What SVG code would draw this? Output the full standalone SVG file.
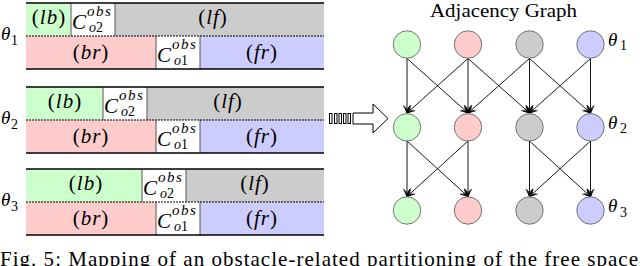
<svg xmlns="http://www.w3.org/2000/svg" width="640" height="266" viewBox="0 0 640 266">
<style>
text{font-family:"Liberation Serif","Times New Roman","DejaVu Serif",serif;fill:#000}
.lbl{font-size:21px;letter-spacing:1px}
.it{font-style:italic}
.sup{font-size:15px;font-style:italic;letter-spacing:1.5px}
.sub{font-size:14px}
.th{font-size:19px;font-style:italic}
.ts{font-size:14px}
.g{fill:#ccffcc}.r{fill:#ffcccc}.k{fill:#cccccc}.b{fill:#ccccff}.w{fill:#ffffff}
.edge{stroke:#000;stroke-width:0.9;fill:none;marker-end:url(#ah)}
.node{stroke:#666;stroke-width:0.9}
.vb{stroke:#555;stroke-width:1}
.hl{stroke:#000;stroke-width:1.3}
.dl{stroke:#000;stroke-width:1;stroke-dasharray:2 1}
</style>
<defs>
<marker id="ah" viewBox="0 0 10 10" refX="9.5" refY="5" markerWidth="9" markerHeight="9" markerUnits="userSpaceOnUse" orient="auto">
<path d="M1,1 L9.5,5 L1,9 M2,2.5 L9.5,5 L2,7.5 M3.5,3.8 L9.5,5 L3.5,6.2" stroke="#000" stroke-width="0.9" fill="none"/>
</marker>
</defs>
<rect width="640" height="266" fill="#fff"/>

<!-- Panel 1 -->
<g id="panel1">
<rect class="g" x="26" y="3" width="45" height="33"/>
<rect class="w" x="71" y="3" width="44" height="33"/>
<rect class="k" x="115" y="3" width="209" height="33"/>
<rect class="r" x="26" y="36" width="130" height="33"/>
<rect class="w" x="156" y="36" width="44" height="33"/>
<rect class="b" x="200" y="36" width="124" height="33"/>
<line class="vb" x1="71" y1="3" x2="71" y2="36"/><line class="vb" x1="115" y1="3" x2="115" y2="36"/>
<line class="vb" x1="156" y1="36" x2="156" y2="69"/><line class="vb" x1="200" y1="36" x2="200" y2="69"/>
<line class="hl" x1="26" y1="3" x2="324" y2="3"/><line class="hl" x1="26" y1="69" x2="324" y2="69"/>
<line class="dl" x1="26" y1="36" x2="324" y2="36"/>
<text class="lbl" x="49" y="24" text-anchor="middle">(<tspan class="it">lb</tspan>)</text>
<text class="lbl" x="213" y="24" text-anchor="middle">(<tspan class="it">lf</tspan>)</text>
<text class="lbl" x="91" y="59" text-anchor="middle">(<tspan class="it">br</tspan>)</text>
<text class="lbl" x="262" y="59" text-anchor="middle">(<tspan class="it">fr</tspan>)</text>
<text class="lbl it" x="72" y="29">C</text><text class="sup" x="87" y="16">obs</text><text class="sub" x="89" y="32"><tspan class="it">o</tspan>2</text>
<text class="lbl it" x="157" y="62">C</text><text class="sup" x="172" y="49">obs</text><text class="sub" x="174" y="65"><tspan class="it">o</tspan>1</text>
<text class="th" x="1" y="40">θ</text><text class="ts" x="11" y="45">1</text>
</g>

<!-- Panel 2 -->
<g id="panel2">
<rect class="g" x="26" y="87" width="77" height="33"/>
<rect class="w" x="103" y="87" width="44" height="33"/>
<rect class="k" x="147" y="87" width="177" height="33"/>
<rect class="r" x="26" y="120" width="130" height="33"/>
<rect class="w" x="156" y="120" width="44" height="33"/>
<rect class="b" x="200" y="120" width="124" height="33"/>
<line class="vb" x1="103" y1="87" x2="103" y2="120"/><line class="vb" x1="147" y1="87" x2="147" y2="120"/>
<line class="vb" x1="156" y1="120" x2="156" y2="153"/><line class="vb" x1="200" y1="120" x2="200" y2="153"/>
<line class="hl" x1="26" y1="87" x2="324" y2="87"/><line class="hl" x1="26" y1="153" x2="324" y2="153"/>
<line class="dl" x1="26" y1="120" x2="324" y2="120"/>
<text class="lbl" x="65" y="108" text-anchor="middle">(<tspan class="it">lb</tspan>)</text>
<text class="lbl" x="228" y="108" text-anchor="middle">(<tspan class="it">lf</tspan>)</text>
<text class="lbl" x="91" y="143" text-anchor="middle">(<tspan class="it">br</tspan>)</text>
<text class="lbl" x="262" y="143" text-anchor="middle">(<tspan class="it">fr</tspan>)</text>
<text class="lbl it" x="104" y="113">C</text><text class="sup" x="119" y="100">obs</text><text class="sub" x="121" y="116"><tspan class="it">o</tspan>2</text>
<text class="lbl it" x="157" y="146">C</text><text class="sup" x="172" y="133">obs</text><text class="sub" x="174" y="149"><tspan class="it">o</tspan>1</text>
<text class="th" x="1" y="124">θ</text><text class="ts" x="11" y="129">2</text>
</g>

<!-- Panel 3 -->
<g id="panel3">
<rect class="g" x="26" y="169" width="116" height="33"/>
<rect class="w" x="142" y="169" width="44" height="33"/>
<rect class="k" x="186" y="169" width="138" height="33"/>
<rect class="r" x="26" y="202" width="130" height="33"/>
<rect class="w" x="156" y="202" width="44" height="33"/>
<rect class="b" x="200" y="202" width="124" height="33"/>
<line class="vb" x1="142" y1="169" x2="142" y2="202"/><line class="vb" x1="186" y1="169" x2="186" y2="202"/>
<line class="vb" x1="156" y1="202" x2="156" y2="235"/><line class="vb" x1="200" y1="202" x2="200" y2="235"/>
<line class="hl" x1="26" y1="169" x2="324" y2="169"/><line class="hl" x1="26" y1="235" x2="324" y2="235"/>
<line class="dl" x1="26" y1="202" x2="324" y2="202"/>
<text class="lbl" x="86" y="190" text-anchor="middle">(<tspan class="it">lb</tspan>)</text>
<text class="lbl" x="255" y="190" text-anchor="middle">(<tspan class="it">lf</tspan>)</text>
<text class="lbl" x="91" y="225" text-anchor="middle">(<tspan class="it">br</tspan>)</text>
<text class="lbl" x="262" y="225" text-anchor="middle">(<tspan class="it">fr</tspan>)</text>
<text class="lbl it" x="143" y="195">C</text><text class="sup" x="158" y="182">obs</text><text class="sub" x="160" y="198"><tspan class="it">o</tspan>2</text>
<text class="lbl it" x="157" y="228">C</text><text class="sup" x="172" y="215">obs</text><text class="sub" x="174" y="231"><tspan class="it">o</tspan>1</text>
<text class="th" x="1" y="206">θ</text><text class="ts" x="11" y="211">3</text>
</g>

<!-- Mapping arrow -->
<g id="mapArrow" fill="none" stroke="#000" stroke-width="1">
<rect x="329.5" y="113.5" width="2.5" height="10"/>
<rect x="334.5" y="113.5" width="2.5" height="10"/>
<rect x="339" y="113.5" width="2.5" height="10"/>
<rect x="343.5" y="113.5" width="2.5" height="10"/>
<rect x="348" y="113.5" width="2.5" height="10"/>
<polygon points="353,113 373,113 373,104 388,118.5 373,133 373,124 353,124" fill="#fff"/>
</g>

<text x="503.5" y="17" font-size="19" text-anchor="middle" textLength="147" lengthAdjust="spacingAndGlyphs">Adjacency Graph</text>

<!-- Connectors -->
<g id="connectors">
<line class="edge" x1="407" y1="58.5" x2="407" y2="113"/>
<line class="edge" x1="407" y1="58.5" x2="468" y2="113"/>
<line class="edge" x1="468" y1="58.5" x2="407" y2="113"/>
<line class="edge" x1="468" y1="58.5" x2="468" y2="113"/>
<line class="edge" x1="468" y1="58.5" x2="529.5" y2="113"/>
<line class="edge" x1="529.5" y1="58.5" x2="468" y2="113"/>
<line class="edge" x1="529.5" y1="58.5" x2="529.5" y2="113"/>
<line class="edge" x1="529.5" y1="58.5" x2="590.5" y2="113"/>
<line class="edge" x1="590.5" y1="58.5" x2="529.5" y2="113"/>
<line class="edge" x1="590.5" y1="58.5" x2="590.5" y2="113"/>
<line class="edge" x1="407" y1="141" x2="407" y2="196.5"/>
<line class="edge" x1="407" y1="141" x2="468" y2="196.5"/>
<line class="edge" x1="468" y1="141" x2="407" y2="196.5"/>
<line class="edge" x1="468" y1="141" x2="468" y2="196.5"/>
<line class="edge" x1="529.5" y1="141" x2="529.5" y2="196.5"/>
<line class="edge" x1="529.5" y1="141" x2="590.5" y2="196.5"/>
<line class="edge" x1="590.5" y1="141" x2="529.5" y2="196.5"/>
<line class="edge" x1="590.5" y1="141" x2="590.5" y2="196.5"/>
</g>

<!-- Nodes -->
<g id="n1_lb"><circle class="node g" cx="407" cy="44.5" r="13.7"/></g>
<g id="n1_br"><circle class="node r" cx="468" cy="44.5" r="13.7"/></g>
<g id="n1_lf"><circle class="node k" cx="529.5" cy="44.5" r="13.7"/></g>
<g id="n1_fr"><circle class="node b" cx="590.5" cy="44.5" r="13.7"/></g>
<g id="n2_lb"><circle class="node g" cx="407" cy="127.3" r="13.7"/></g>
<g id="n2_br"><circle class="node r" cx="468" cy="127.3" r="13.7"/></g>
<g id="n2_lf"><circle class="node k" cx="529.5" cy="127.3" r="13.7"/></g>
<g id="n2_fr"><circle class="node b" cx="590.5" cy="127.3" r="13.7"/></g>
<g id="n3_lb"><circle class="node g" cx="407" cy="210.5" r="13.7"/></g>
<g id="n3_br"><circle class="node r" cx="468" cy="210.5" r="13.7"/></g>
<g id="n3_lf"><circle class="node k" cx="529.5" cy="210.5" r="13.7"/></g>
<g id="n3_fr"><circle class="node b" cx="590.5" cy="210.5" r="13.7"/></g>

<g id="thetaRight">
<text class="th" x="608" y="45.5">θ</text><text class="ts" x="620" y="50">1</text>
<text class="th" x="608" y="128.5">θ</text><text class="ts" x="620" y="133">2</text>
<text class="th" x="608" y="212">θ</text><text class="ts" x="620" y="216.5">3</text>
</g>

<text x="0" y="266" font-size="21" textLength="638" lengthAdjust="spacing">Fig. 5: Mapping of an obstacle-related partitioning of the free space</text>
</svg>
